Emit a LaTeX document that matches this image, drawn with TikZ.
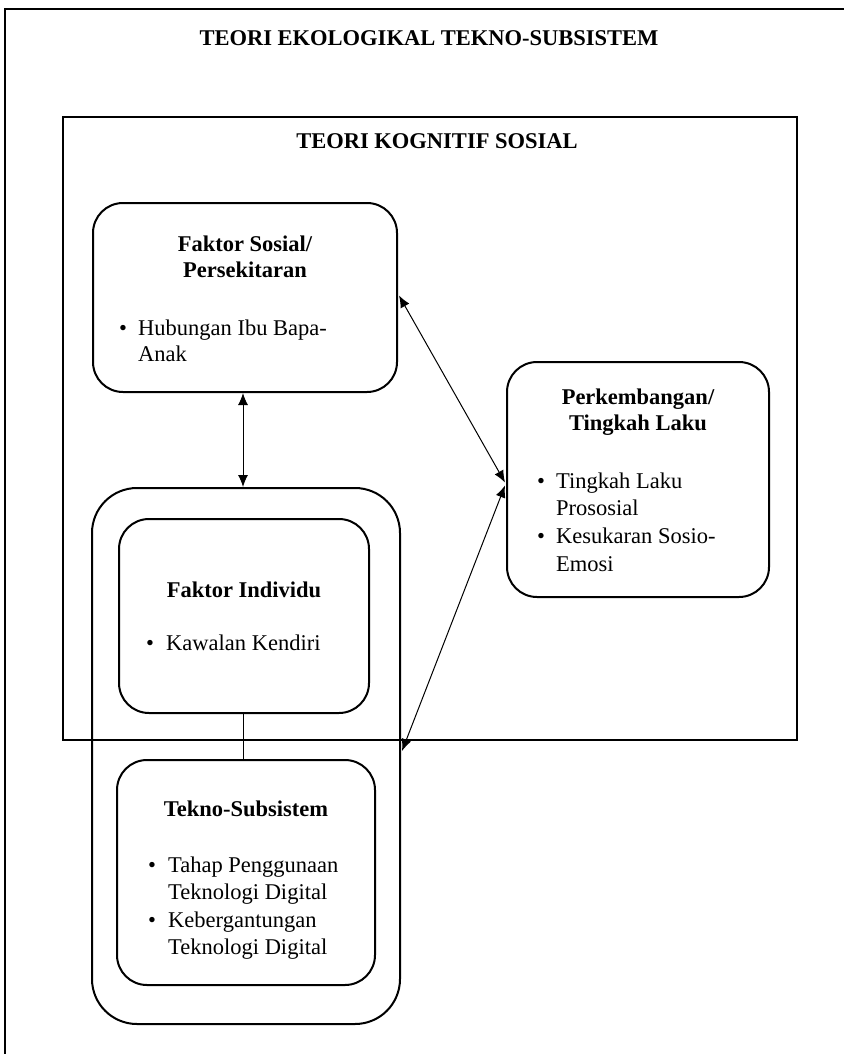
\documentclass[tikz,border=0pt]{standalone}
\usepackage{fontspec}
\setmainfont{Liberation Serif}
\usetikzlibrary{arrows.meta,calc}
\begin{document}
\begin{tikzpicture}[x=1pt,y=-1pt,
  box/.style={draw, line width=2pt, rounded corners=30pt, inner sep=0pt},
  frame/.style={draw, line width=2pt, inner sep=0pt},
  hd/.style={font=\fontsize{22.5}{26}\selectfont\bfseries, anchor=base, inner sep=0pt},
  tx/.style={font=\fontsize{22.5}{26}\selectfont, anchor=base west, inner sep=0pt},
  link/.style={line width=1pt, {Latex[length=12pt,width=10pt]}-{Latex[length=12pt,width=10pt]}},
  plain/.style={line width=1pt}]
\useasboundingbox (0,0) rectangle (844,1054);
% outer frame (only left and top edges are visible)
\coordinate (fbl) at (5,1054);
\coordinate (ftl) at (5,9);
\coordinate (ftr) at (844,9);
\draw[line width=2pt] (fbl) -- (ftl) -- (ftr);
\node[hd] (t1) at (429,46) {TEORI EKOLOGIKAL TEKNO-SUBSISTEM};
% inner frame
\node[frame, minimum width=734pt, minimum height=623pt] (kog) at (430,428.5) {};
\node[hd] (t2) at (437,148) {TEORI KOGNITIF SOSIAL};
% boxes
\node[box, minimum width=304pt, minimum height=189pt] (sos) at (245,297.5) {};
\node[box, minimum width=262pt, minimum height=235pt] (perk) at (638,479.5) {};
\node[box, rounded corners=45pt, minimum width=308pt, minimum height=536pt] (grp) at (246,756) {};
\node[box, minimum width=250pt, minimum height=194pt] (ind) at (244,616) {};
\node[box, minimum width=258pt, minimum height=225pt] (tek) at (246,872.5) {};
% Faktor Sosial
\node[hd] (s1) at (245,251) {Faktor Sosial/};
\node[hd] (s2) at (245,277) {Persekitaran};
\node[tx] (sb1) at (119,335) {•};
\node[tx] (s3) at (138,335) {Hubungan Ibu Bapa-};
\node[tx] (s4) at (138,361) {Anak};
% Perkembangan
\node[hd] (p1) at (638,404) {Perkembangan/};
\node[hd] (p2) at (638,430) {Tingkah Laku};
\node[tx] (pb1) at (537,488) {•};
\node[tx] (p3) at (556,488) {Tingkah Laku};
\node[tx] (p4) at (556,515) {Prososial};
\node[tx] (pb2) at (537,543) {•};
\node[tx] (p5) at (556,543) {Kesukaran Sosio-};
\node[tx] (p6) at (556,571) {Emosi};
% Faktor Individu
\node[hd] (i1) at (244,597) {Faktor Individu};
\node[tx] (ib1) at (146,650) {•};
\node[tx] (i2) at (166,650) {Kawalan Kendiri};
% Tekno-Subsistem
\node[hd] (k1) at (246,816) {Tekno-Subsistem};
\node[tx] (kb1) at (148,872) {•};
\node[tx] (k2) at (168,872) {Tahap Penggunaan};
\node[tx] (k3) at (168,899) {Teknologi Digital};
\node[tx] (kb2) at (148,927) {•};
\node[tx] (k4) at (168,927) {Kebergantungan};
\node[tx] (k5) at (168,954) {Teknologi Digital};
% connectors
\draw[link] ($(sos.south)+(-2,0)$) -- ($(grp.north)+(-3,0)$);
\draw[link] ($(sos.east)+(1,-2)$) -- ($(perk.west)+(-1,3)$);
\draw[link] ($(perk.west)+(-1,6)$) -- ($(grp.east)+(1,-5)$);
\draw[plain] ($(ind.south)+(-1,0)$) -- ($(tek.north)+(-3,0)$);
\end{tikzpicture}
\end{document}
